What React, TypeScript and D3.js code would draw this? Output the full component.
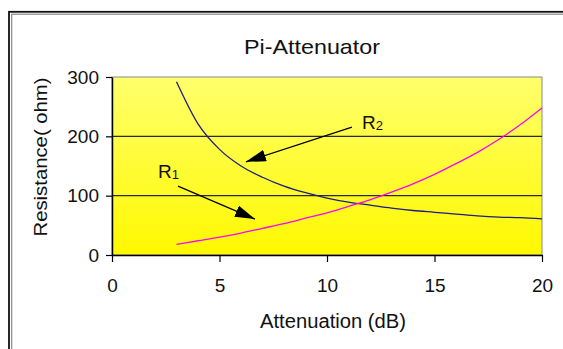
import { useEffect, useRef } from "react";
import * as d3 from "d3";

// Attenuation points (dB)
const attenuation = [3, 4, 5, 6, 7, 8, 9, 10, 11, 12, 13, 14, 15, 16, 17, 18, 19, 20];
// dark curve (arrow "R2" points at it)
const darkValues = [292, 221, 178, 150, 131, 116, 105, 96, 89, 84, 79, 75, 72, 69, 66, 64, 63, 61];
// magenta curve (arrow "R1" points at it)
const magentaValues = [18, 24, 30, 37, 45, 53, 62, 71, 82, 93, 106, 120, 136, 154, 173, 195, 220, 248];

const xTicks = [0, 5, 10, 15, 20];
const yTicks = [0, 100, 200, 300];
const gridValues = [100, 200];

// annotation labels and arrows, in data units
const labels = [
  { main: "R", sub: "2", x: 11.63, y: 212 },
  { main: "R", sub: "1", x: 2.14, y: 129 },
];
const arrows = [
  { x1: 11.16, y1: 215.5, x2: 6.23, y2: 157 },
  { x1: 3.07, y1: 116, x2: 6.65, y2: 60.5 },
];

const FONT = "'Liberation Sans', Arial, Helvetica, sans-serif";

export default function App() {
  const svgRef = useRef<SVGSVGElement>(null);
  const width = 563;
  const height = 349;
  const plot = { left: 112, right: 542, top: 77, bottom: 255 };

  useEffect(() => {
    if (!svgRef.current) return;
    const svg = d3.select(svgRef.current);
    svg.selectAll("*").remove();

    const x = d3.scaleLinear().domain([0, 20]).range([plot.left, plot.right]);
    const y = d3.scaleLinear().domain([0, 300]).range([plot.bottom, plot.top]);

    const defs = svg.append("defs");
    const grad = defs
      .append("linearGradient")
      .attr("id", "bg")
      .attr("x1", 0)
      .attr("y1", 0)
      .attr("x2", 0)
      .attr("y2", 1);
    grad.append("stop").attr("offset", "0%").attr("stop-color", "#ffff6c");
    grad.append("stop").attr("offset", "100%").attr("stop-color", "#fff800");

    defs
      .append("marker")
      .attr("id", "head")
      .attr("markerUnits", "userSpaceOnUse")
      .attr("markerWidth", 20)
      .attr("markerHeight", 12)
      .attr("refX", 20)
      .attr("refY", 6)
      .attr("orient", "auto")
      .append("path")
      .attr("d", "M0,0 L20,6 L0,12 Z")
      .attr("fill", "#000");

    // double frame around the chart
    svg
      .append("rect")
      .attr("x", 9)
      .attr("y", 11.8)
      .attr("width", 620)
      .attr("height", 420)
      .attr("fill", "none")
      .attr("stroke", "#111")
      .attr("stroke-width", 1.8);
    svg
      .append("rect")
      .attr("x", 11.7)
      .attr("y", 14.2)
      .attr("width", 620)
      .attr("height", 420)
      .attr("fill", "none")
      .attr("stroke", "#888")
      .attr("stroke-width", 1.2);

    // plot background
    svg
      .append("rect")
      .attr("x", plot.left)
      .attr("y", plot.top)
      .attr("width", plot.right - plot.left)
      .attr("height", plot.bottom - plot.top)
      .attr("fill", "url(#bg)")
      .attr("stroke", "#8a8a8a")
      .attr("stroke-width", 1);

    // grid lines
    svg
      .selectAll(".grid")
      .data(gridValues)
      .enter()
      .append("line")
      .attr("x1", plot.left)
      .attr("x2", plot.right)
      .attr("y1", (d) => y(d))
      .attr("y2", (d) => y(d))
      .attr("stroke", "#2a2a2a")
      .attr("stroke-width", 1.2);

    // curves
    const line = d3
      .line<number>()
      .x((_, i) => x(attenuation[i]))
      .y((d) => y(d))
      .curve(d3.curveMonotoneX);

    svg
      .append("path")
      .datum(darkValues)
      .attr("fill", "none")
      .attr("stroke", "#1c1c80")
      .attr("stroke-width", 1.3)
      .attr("d", line);

    svg
      .append("path")
      .datum(magentaValues)
      .attr("fill", "none")
      .attr("stroke", "#ff00ff")
      .attr("stroke-width", 1.3)
      .attr("d", line);

    // axes
    const yAxis = svg
      .append("g")
      .attr("transform", `translate(${plot.left},0)`)
      .call(d3.axisLeft(y).tickValues(yTicks).tickSize(6).tickPadding(7).tickSizeOuter(0));
    const xAxis = svg
      .append("g")
      .attr("transform", `translate(0,${plot.bottom})`)
      .call(d3.axisBottom(x).tickValues(xTicks).tickSize(7).tickPadding(17).tickSizeOuter(0));

    [yAxis, xAxis].forEach((g) => {
      g.select(".domain").attr("stroke", "#000").attr("stroke-width", 1.5);
      g.selectAll(".tick line").attr("stroke", "#000").attr("stroke-width", 1.2);
      g.selectAll(".tick text")
        .attr("fill", "#111")
        .style("font-family", FONT)
        .style("font-size", "19px");
    });

    // titles
    svg
      .append("text")
      .attr("x", 312)
      .attr("y", 54)
      .attr("text-anchor", "middle")
      .attr("textLength", 136)
      .attr("lengthAdjust", "spacingAndGlyphs")
      .style("font-family", FONT)
      .style("font-size", "21px")
      .attr("fill", "#111")
      .text("Pi-Attenuator");

    svg
      .append("text")
      .attr("x", 333)
      .attr("y", 328)
      .attr("text-anchor", "middle")
      .attr("textLength", 146)
      .attr("lengthAdjust", "spacingAndGlyphs")
      .style("font-family", FONT)
      .style("font-size", "20px")
      .attr("fill", "#111")
      .text("Attenuation (dB)");

    svg
      .append("text")
      .attr("transform", "translate(47,157) rotate(-90)")
      .attr("text-anchor", "middle")
      .attr("textLength", 159)
      .attr("lengthAdjust", "spacingAndGlyphs")
      .style("font-family", FONT)
      .style("font-size", "18px")
      .attr("fill", "#111")
      .text("Resistance( ohm)");

    // annotations
    svg
      .selectAll(".arrow")
      .data(arrows)
      .enter()
      .append("line")
      .attr("x1", (d) => x(d.x1))
      .attr("y1", (d) => y(d.y1))
      .attr("x2", (d) => x(d.x2))
      .attr("y2", (d) => y(d.y2))
      .attr("stroke", "#000")
      .attr("stroke-width", 1.2)
      .attr("marker-end", "url(#head)");

    const lbl = svg
      .selectAll(".lbl")
      .data(labels)
      .enter()
      .append("text")
      .attr("x", (d) => x(d.x))
      .attr("y", (d) => y(d.y))
      .style("font-family", FONT)
      .style("font-size", "19px")
      .attr("fill", "#111");
    lbl.append("tspan").text((d) => d.main);
    lbl
      .append("tspan")
      .attr("dy", 1)
      .style("font-size", "13px")
      .text((d) => d.sub);
  }, []);

  return (
    <svg
      ref={svgRef}
      width={width}
      height={height}
      style={{ position: "absolute", left: 0, top: 0, background: "#fff" }}
    ></svg>
  );
}
